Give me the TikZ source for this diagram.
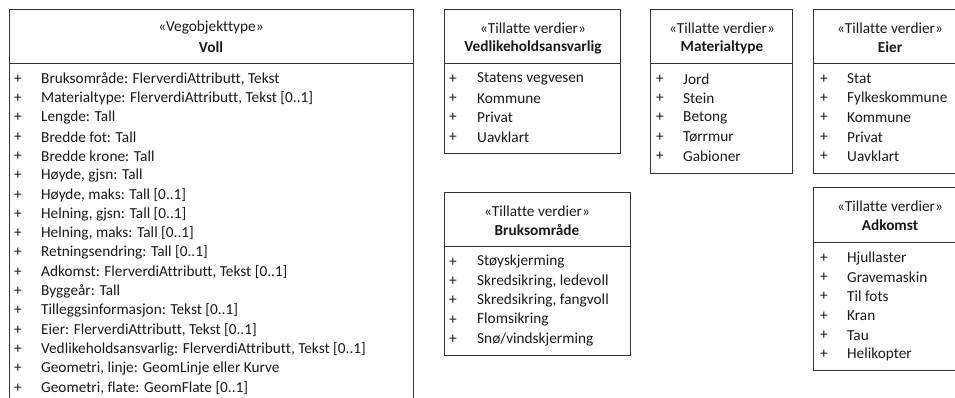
\documentclass[tikz,border=0pt]{standalone}
\usepackage{fontspec}
\setmainfont{Carlito}[Ligatures=NoCommon]
\usetikzlibrary{positioning}

\begin{document}
\begin{tikzpicture}[x=1pt, y=-1pt, font=\fontsize{15.3}{18}\selectfont,
		boks/.style={draw=black!80, line width=0.9pt},
		hode/.style={inner sep=0pt, text=black!90},
		rad/.style={inner sep=0pt, anchor=west, text=black!90}]
		\useasboundingbox (0,0) rectangle (955,398);
		\clip (0,0) rectangle (955,398);
		
		% Voll
		\draw [boks] (9,9) rectangle (413,410);
		\draw [boks] (9,63) -- (413,63);
		\node [hode] (voll-stereo) at (211,28) {«Vegobjekttype»};
		\node [hode] (voll-navn) at (211,47) {\textbf{Voll}};
		\foreach \tekst [count=\i from 0] in {{Bruksområde: FlerverdiAttributt, Tekst}, {Materialtype: FlerverdiAttributt, Tekst [0..1]}, Lengde: Tall, Bredde fot: Tall, Bredde krone: Tall, {Høyde, gjsn: Tall}, {Høyde, maks: Tall [0..1]}, {Helning, gjsn: Tall [0..1]}, {Helning, maks: Tall [0..1]}, Retningsendring: Tall [0..1], {Adkomst: FlerverdiAttributt, Tekst [0..1]}, Byggeår: Tall, Tilleggsinformasjon: Tekst [0..1], {Eier: FlerverdiAttributt, Tekst [0..1]}, {Vedlikeholdsansvarlig: FlerverdiAttributt, Tekst [0..1]}, {Geometri, linje: GeomLinje eller Kurve}, {Geometri, flate: GeomFlate [0..1]}} {
			\node [hode] (voll-pluss-\i) at (18,{79+19.3*\i}) {+};
			\node [rad] (voll-\i) at (41,{79+19.3*\i}) {\tekst};
		}
		
		% Vedlikeholdsansvarlig
		\draw [boks] (444,9) rectangle (620,153);
		\draw [boks] (444,63) -- (620,63);
		\node [hode] (vedl-stereo) at (533,28) {«Tillatte verdier»};
		\node [hode] (vedl-navn) at (533,47) {\textbf{Vedlikeholdsansvarlig}};
		\foreach \tekst [count=\i from 0] in {Statens vegvesen, Kommune, Privat, Uavklart} {
			\node [hode] (vedl-pluss-\i) at (453,{79+19.3*\i}) {+};
			\node [rad] (vedl-\i) at (477,{79+19.3*\i}) {\tekst};
		}
		
		% Materialtype
		\draw [boks] (650,9) rectangle (792,173);
		\draw [boks] (650,63) -- (792,63);
		\node [hode] (mat-stereo) at (722,28) {«Tillatte verdier»};
		\node [hode] (mat-navn) at (722,47) {\textbf{Materialtype}};
		\foreach \tekst [count=\i from 0] in {Jord, Stein, Betong, Tørrmur, Gabioner} {
			\node [hode] (mat-pluss-\i) at (660,{79+19.3*\i}) {+};
			\node [rad] (mat-\i) at (683,{79+19.3*\i}) {\tekst};
		}
		
		% Eier
		\draw [boks] (813,9) rectangle (968,173);
		\draw [boks] (813,63) -- (968,63);
		\node [hode] (eier-stereo) at (890,28) {«Tillatte verdier»};
		\node [hode] (eier-navn) at (890,47) {\textbf{Eier}};
		\foreach \tekst [count=\i from 0] in {Stat, Fylkeskommune, Kommune, Privat, Uavklart} {
			\node [hode] (eier-pluss-\i) at (824,{79+19.3*\i}) {+};
			\node [rad] (eier-\i) at (847,{79+19.3*\i}) {\tekst};
		}
		
		% Bruksområde
		\draw [boks] (444,192) rectangle (630,355);
		\draw [boks] (444,246) -- (630,246);
		\node [hode] (bruk-stereo) at (537,211) {«Tillatte verdier»};
		\node [hode] (bruk-navn) at (537,230) {\textbf{Bruksområde}};
		\foreach \tekst [count=\i from 0] in {Støyskjerming, {Skredsikring, ledevoll}, {Skredsikring, fangvoll}, Flomsikring, Snø/vindskjerming} {
			\node [hode] (bruk-pluss-\i) at (453,{262+19.3*\i}) {+};
			\node [rad] (bruk-\i) at (477,{262+19.3*\i}) {\tekst};
		}
		
		% Adkomst
		\draw [boks] (813,187) rectangle (968,370);
		\draw [boks] (813,242) -- (968,242);
		\node [hode] (adk-stereo) at (890,206) {«Tillatte verdier»};
		\node [hode] (adk-navn) at (890,225) {\textbf{Adkomst}};
		\foreach \tekst [count=\i from 0] in {Hjullaster, Gravemaskin, Til fots, Kran, Tau, Helikopter} {
			\node [hode] (adk-pluss-\i) at (824,{258+19.3*\i}) {+};
			\node [rad] (adk-\i) at (847,{258+19.3*\i}) {\tekst};
		}
	\end{tikzpicture}
\end{document}
